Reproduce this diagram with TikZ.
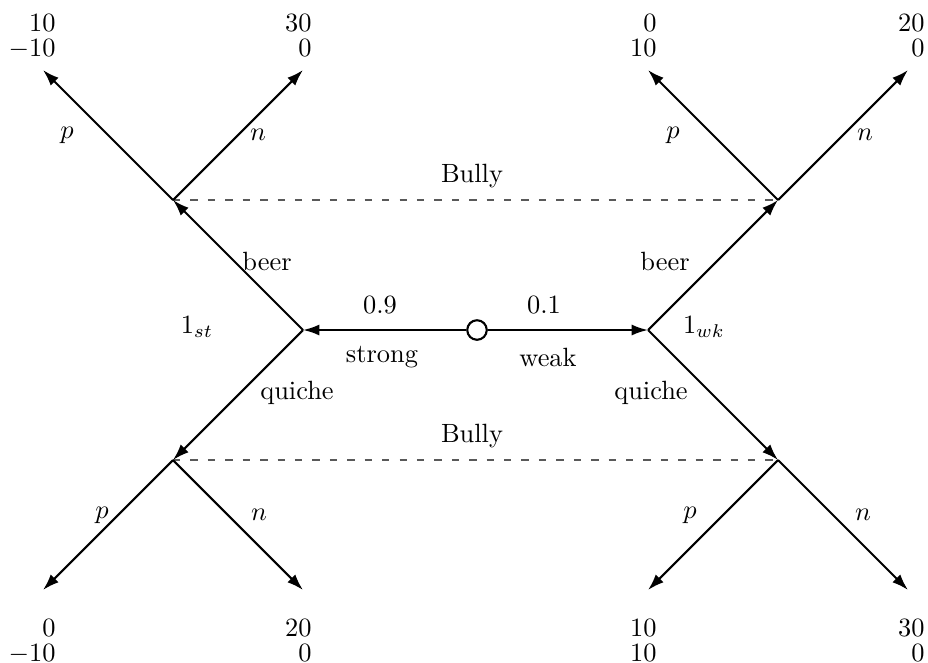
\documentclass[tikz,border=0pt]{standalone}
\usetikzlibrary{arrows.meta}
\begin{document}
\begin{tikzpicture}[x=0.3788pt,y=-0.3788pt,
  move/.style={line width=0.8pt,-{Latex[length=6.2pt,width=4.2pt]}},
  infoset/.style={line width=0.5pt,black!65,dash pattern=on 2.8pt off 3.8pt},
  lbl/.style={inner sep=0pt},
  pay/.style={inner sep=0pt,align=right,anchor=north east,
    font=\fontsize{10pt}{9.5pt}\selectfont}
]
\useasboundingbox (0,0) rectangle (928,662);

% nature, sender types and receiver decision points
\node[circle,draw,line width=0.8pt,minimum size=7.4pt,inner sep=0pt] (nat) at (477,330) {};
\coordinate (st) at (303,330);
\coordinate (wk) at (648,330);
\coordinate (stB) at (173,200);
\coordinate (stQ) at (173,460);
\coordinate (wkB) at (778,200);
\coordinate (wkQ) at (778,460);

% terminal points
\coordinate (t1) at (43,70);
\coordinate (t2) at (303,70);
\coordinate (t3) at (648,70);
\coordinate (t4) at (908,70);
\coordinate (t5) at (43,590);
\coordinate (t6) at (303,590);
\coordinate (t7) at (648,590);
\coordinate (t8) at (908,590);

% information sets
\draw[infoset] (stB) -- (wkB);
\draw[infoset] (stQ) -- (wkQ);

% moves
\draw[move] (nat) -- (st);
\draw[move] (nat) -- (wk);
\draw[move] (st) -- (stB);
\draw[move] (st) -- (stQ);
\draw[move] (wk) -- (wkB);
\draw[move] (wk) -- (wkQ);
\draw[move] (stB) -- (t1);
\draw[move] (stB) -- (t2);
\draw[move] (wkB) -- (t3);
\draw[move] (wkB) -- (t4);
\draw[move] (stQ) -- (t5);
\draw[move] (stQ) -- (t6);
\draw[move] (wkQ) -- (t7);
\draw[move] (wkQ) -- (t8);

% labels
\node[lbl] (l09) at (380,305) {0.9};
\node[lbl] (l01) at (544,305) {0.1};
\node[lbl] (lstrong) at (382,357) {strong};
\node[lbl] (lweak) at (548,357) {weak};
\node[lbl] (lst) at (197,327) {$1_{st}$};
\node[lbl] (lwk) at (704,327) {$1_{wk}$};
\node[lbl] (lbeerL) at (267,261) {beer};
\node[lbl] (lbeerR) at (665,261) {beer};
\node[lbl] (lquiL) at (297,393) {quiche};
\node[lbl] (lquiR) at (651,393) {quiche};
\node[lbl] (lbullyT) at (472,176) {Bully};
\node[lbl] (lbullyB) at (472,436) {Bully};
\node[lbl] (p1) at (67,135) {$p$};
\node[lbl] (n1) at (258,135) {$n$};
\node[lbl] (p2) at (673,135) {$p$};
\node[lbl] (n2) at (865,135) {$n$};
\node[lbl] (p3) at (102,515) {$p$};
\node[lbl] (n3) at (259,515) {$n$};
\node[lbl] (p4) at (690,515) {$p$};
\node[lbl] (n4) at (863,515) {$n$};

% payoffs
\node[pay] (u1) at (56,13) {10\\$-10$};
\node[pay] (u2) at (312,13) {30\\0};
\node[pay] (u3) at (657,13) {0\\10};
\node[pay] (u4) at (925,13) {20\\0};
\node[pay] (u5) at (56,618) {0\\$-10$};
\node[pay] (u6) at (312,618) {20\\0};
\node[pay] (u7) at (657,618) {10\\10};
\node[pay] (u8) at (925,618) {30\\0};
\end{tikzpicture}
\end{document}
